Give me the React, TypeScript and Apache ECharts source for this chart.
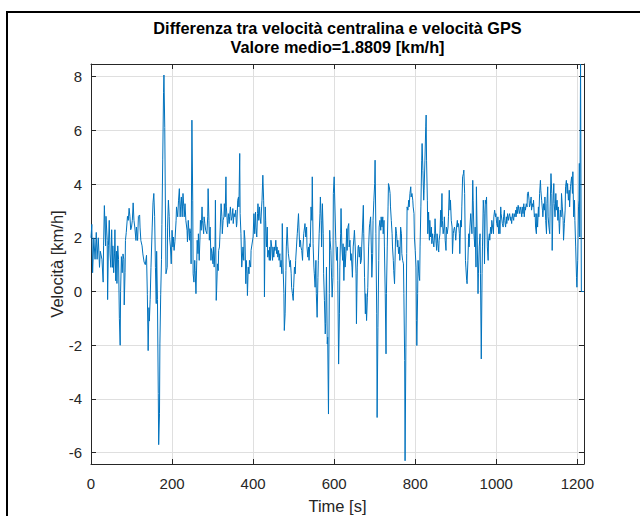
import React, { useEffect, useRef } from "react";
import * as echarts from "echarts";

const TITLE_LINE_1 = "Differenza tra velocità centralina e velocità GPS";
const TITLE_LINE_2 = "Valore medio=1.8809 [km/h]";
const X_NAME = "Time [s]";
const Y_NAME = "Velocità [km/h]";

const TIME_TICKS = [0, 200, 400, 600, 800, 1000, 1200];
const VEL_TICKS = [-6, -4, -2, 0, 2, 4, 6, 8];
const TIME_RANGE = [0, 1216.5];
const VEL_RANGE = [-6.42, 8.47];

// [time s, velocity difference km/h]
const segA = [
  [0, 2.0], [2, 2.5], [4, 0.7], [7, 2.0], [10, 1.2], [13, 2.2], [15, 1.2], [18, 2.0], [21, 0.9], [23, 1.5],
  [27, 1.2], [30, 0.35], [31, 1.7], [33, 3.2], [36, 1.7], [37, 2.8], [40, 1.9], [41, -0.3], [43, 1.7], [45, 2.65],
  [47, 1.4], [49, 0.9], [51, 2.3], [53, 0.9], [54, 1.7], [56, 0.7], [58, 1.4], [59, 2.3], [61, 0.4], [63, 1.5],
  [64, 0.3], [66, 1.7], [68, 1.2], [70, -1.0], [72, -2.0], [73, 0.0], [75, 1.3], [77, 0.7], [79, 1.4], [81, 1.2],
  [82, -0.5], [84, 0.7], [85, 1.9], [87, 2.2], [90, 2.8], [92, 2.65], [94, 3.1], [96, 2.8], [98, 2.3], [100, 2.4],
  [102, 2.65], [104, 3.3], [106, 2.65], [108, 2.4], [111, 1.9], [112, 2.4], [115, 1.9], [117, 2.8], [120, 2.85], [121, 2.4],
  [123, 1.9], [126, 1.7], [128, 1.4], [131, 1.1], [134, 1.0], [137, 1.35], [139, -0.1], [141, -2.2], [143, -0.6], [144, -1.1],
  [146, -0.3], [148, 0.9], [151, 2.4], [153, 3.3], [155, 3.65], [157, 2.8], [159, 0.9], [161, -0.45], [162, 1.5], [164, -0.3],
  [166, -3.8], [167, -5.7], [169, -4.55], [170, -1.95], [172, -0.1], [174, 1.2], [175, 2.5], [177, 4.9], [179, 7.4], [180, 8.06],
  [182, 6.1], [184, 2.4], [185, 0.66], [188, 0.9], [189, 2.4], [191, 3.4], [193, 2.8], [194, 2.0],
];
const segB = [
  [196, 1.66], [198, 1.03], [200, 2.28], [202, 1.66], [203, 2.03], [205, 1.53], [207, 1.85], [210, 2.65], [211, 3.15], [214, 2.78],
  [216, 3.4], [218, 3.83], [220, 2.78], [221, 3.15], [223, 3.52], [225, 2.78], [227, 3.65], [229, 3.15], [230, 2.78], [232, 3.27],
  [234, 2.65], [237, 2.28], [238, 1.85], [240, 2.65], [243, 1.91], [244, 2.34], [246, 2.15], [247, 1.03], [249, 6.38], [251, 3.4],
  [252, 0.66], [254, 0.35], [256, 1.16], [257, 0.78], [259, -0.08], [261, 1.16], [262, 1.91], [264, 1.41], [265, 2.15], [267, 1.16],
  [269, 2.03], [270, 2.65], [272, 2.28], [274, 3.15], [275, 2.65], [278, 2.15], [279, 2.78], [281, 2.53], [283, 2.28], [286, 2.15],
  [288, 2.78], [289, 3.83], [291, 2.65], [292, 1.91], [294, 2.4], [296, 1.16], [297, 1.6], [299, 1.41], [301, 1.03], [302, 1.66],
  [304, 0.91], [306, 1.66], [307, 3.4], [309, -0.33], [310, 0.04], [312, 1.03], [314, 0.78], [315, 1.53], [317, 1.66], [319, 2.4],
  [321, 3.27], [323, 2.78], [324, 2.15], [326, 2.65], [328, 2.78], [329, 3.27], [331, 2.78], [333, 4.27], [334, 3.15], [336, 2.65],
  [337, 2.4], [339, 2.9], [341, 2.53], [342, 2.78], [344, 3.15], [346, 2.65], [348, 2.78], [350, 3.09], [351, 2.53], [353, 2.9],
  [355, 2.78], [357, 3.03], [359, 2.4], [360, 2.53], [362, 3.4], [364, 3.52], [365, 3.15], [367, 5.14], [368, 2.9], [370, 2.15],
  [372, 0.91], [373, 1.16], [375, 1.66], [377, 1.16], [378, 2.28], [380, 1.91], [382, 0.29], [383, 1.16], [385, 0.66], [386, -0.15],
  [388, 0.91], [390, 0.66], [391, 1.16], [394, 0.91], [395, 1.53],
];
const segC = [
  [400, 2.03], [402, 2.9], [404, 2.15], [406, 2.96], [407, 2.4], [409, 2.03], [411, 2.9], [412, 3.27], [414, 2.65], [416, 3.15],
  [417, 2.78], [419, 2.53], [421, 3.15], [422, 3.4], [424, 4.33], [426, 3.4], [427, 2.4], [428, -0.2], [430, 3.15], [431, 2.65],
  [433, 1.66], [435, 2.4], [436, 1.28], [438, 1.53], [440, 1.16], [441, 1.66], [443, 1.16], [444, 1.91], [446, 1.66], [448, 1.16],
  [449, 1.66], [451, 1.28], [453, 1.66], [454, 1.53], [456, 1.91], [458, 1.41], [459, 1.66], [461, 1.28], [463, 1.53], [464, 1.16],
  [466, 1.41], [467, 0.91], [469, 1.16], [471, 0.66], [472, 2.53], [474, 0.91], [476, -0.08], [477, -1.45], [479, -0.83], [481, 0.78],
  [482, 1.66], [484, 2.4], [486, 1.66], [487, 1.41], [489, 1.16], [491, 0.91], [492, 1.16], [494, 0.66], [495, 0.16], [497, -0.08],
  [499, -0.33], [500, 0.16], [502, 0.91], [504, 0.66], [505, 1.16], [507, 1.66], [509, 2.15], [510, 2.4], [512, 2.9], [514, 2.03],
  [515, 1.66], [517, 1.91], [518, 1.66], [520, 1.53], [522, 1.16], [523, 1.66], [525, 2.15], [527, 2.4], [528, 2.53], [530, 2.03],
  [532, 2.4], [533, 1.66], [535, 1.28], [537, 1.66], [538, 1.16], [540, 1.78], [541, 1.66], [543, 3.15], [545, 2.65], [546, 4.27],
  [548, 1.78], [550, 0.91], [551, 0.66], [553, 0.16], [555, 1.16], [556, -0.08], [558, -0.96], [560, 0.53], [561, 1.16], [563, 2.15],
  [565, 2.9], [566, 3.52], [568, 2.65], [569, 1.66], [571, 3.27], [573, 2.15], [574, 0.66], [576, -0.33], [578, -1.58], [579, -1.2],
  [581, 0.91], [583, -1.95], [584, -1.7], [586, -4.56], [588, -0.08], [589, 2.28], [590, 1.91], [592, 1.53], [593, 0.91], [595, -0.21],
  [597, 0.53], [598, 3.65], [600, 4.27],
];
const segD = [
  [604, 1.91], [606, 1.16], [608, 1.66], [609, 0.41], [611, -2.7], [613, -0.83], [614, 0.91], [616, 2.15], [617, 3.09], [619, 1.66],
  [621, 1.16], [622, 1.78], [624, 0.41], [626, 1.66], [627, 0.91], [629, 1.41], [631, 2.34], [632, 1.53], [634, 2.4], [636, 2.53],
  [637, 1.66], [639, 1.91], [641, 1.16], [642, 1.41], [644, 0.91], [645, 0.53], [647, 1.66], [649, 2.03], [650, 2.28], [652, 1.66],
  [654, 0.66], [655, -1.2], [657, 0.91], [659, 1.66], [660, 1.72], [662, 1.28], [664, 1.66], [665, 1.03], [667, 1.16], [668, 1.66],
  [670, 2.4], [672, 3.21], [673, 2.15], [675, 0.53], [677, -0.83], [678, -0.08], [680, -1.08], [682, -0.21], [683, 0.16], [685, 1.66],
  [687, 2.4], [688, 2.53], [690, 2.78], [692, 1.41], [693, 0.53], [695, 1.41], [696, 2.65], [698, 3.4], [700, 4.02], [701, 4.89],
  [703, 2.15], [705, -0.83], [706, -4.69], [708, -1.33], [710, 1.16], [711, 2.4], [713, 2.65], [715, 2.28], [716, 2.78], [718, 2.4],
  [720, 2.78], [721, 2.15], [723, 2.65], [724, 1.66], [726, -0.08], [728, -2.32], [729, -0.08], [731, 1.66], [733, 3.15], [734, 4.02],
  [736, 3.9], [738, 3.65], [739, 3.15], [741, 2.65], [743, 2.15], [744, 1.66], [746, 1.16], [747, 0.78], [749, 0.29], [751, 1.66],
  [752, 2.4], [754, 2.15], [756, 1.66], [757, 1.91], [759, 1.41], [761, 1.66], [762, 1.16], [764, 2.4], [766, 2.15], [767, 1.41],
  [769, 1.16], [771, 1.03], [772, -0.08], [774, -2.57], [775, -6.3], [777, -2.07], [779, 1.41], [780, 3.15], [782, 3.03], [784, 3.4],
  [785, 3.15], [787, 3.65], [789, 3.9], [790, 3.52], [792, 3.65], [794, 3.4], [795, 3.15], [797, 2.9], [798, 2.03], [800, 1.53],
  [802, 0.91],
];
const segE = [
  [803, -1.08], [804, -2.01], [806, -0.08], [807, 1.16], [809, 0.66], [811, 0.41], [812, 1.66], [814, 3.15], [816, 4.89], [817, 5.51],
  [819, 4.51], [821, 3.4], [822, 3.77], [824, 4.89], [826, 6.13], [827, 6.57], [828, 4.89], [830, 3.4], [831, 2.15], [833, 2.96],
  [835, 1.91], [836, 2.65], [838, 2.03], [840, 2.4], [841, 1.78], [843, 2.15], [844, 1.91], [846, 1.66], [848, 2.15], [849, 2.71],
  [851, 1.91], [853, 1.53], [854, 2.15], [856, 1.78], [858, 1.47], [859, 1.91], [861, 2.15], [863, 3.03], [864, 2.4], [866, 3.65],
  [867, 2.65], [869, 2.15], [871, 2.4], [872, 2.78], [874, 1.91], [876, 1.53], [877, 2.4], [879, 2.15], [881, 2.4], [882, 2.78],
  [884, 3.77], [886, 3.03], [887, 3.4], [889, 2.65], [891, 2.4], [892, 1.41], [894, 2.15], [895, 2.28], [897, 2.4], [899, 2.15],
  [900, 1.91], [902, 2.4], [904, 2.65], [905, 2.4], [907, 2.53], [909, 2.15], [910, 1.41], [912, 2.65], [914, 2.4], [915, 3.15],
  [917, 4.27], [919, 4.39], [920, 4.52], [922, 3.65], [924, 1.16], [925, 0.91], [927, 0.41], [928, 0.29], [930, 1.16], [932, 2.15],
  [933, 1.66], [935, 2.4], [937, 2.9], [938, 2.9], [940, 2.15], [942, 4.14], [943, 3.4], [945, 2.15], [947, 1.66], [948, 2.4],
  [950, 0.91], [951, 3.9], [953, 2.03], [955, -0.08], [956, 0.66], [958, 1.66], [960, 2.15], [961, 0.66], [963, -2.51], [965, 0.66],
  [966, 1.66], [968, 3.4], [970, 2.9], [971, 1.03], [973, 3.4], [975, 3.27], [976, 3.52], [978, 1.66], [980, 1.16], [981, 1.91],
  [983, 2.15], [984, 1.91], [986, 2.4], [988, 2.15], [989, 2.65], [991, 2.4], [993, 2.15], [994, 2.78], [996, 3.03], [998, 2.78],
  [999, 2.9], [1001, 2.53], [1003, 2.4], [1004, 2.78], [1006, 2.15], [1008, 2.65], [1009, 2.15], [1011, 3.15], [1012, 2.9],
];
const segF = [
  [1015, 2.53], [1017, 2.4], [1018, 2.78], [1020, 3.03], [1021, 2.65], [1023, 2.4], [1025, 2.78], [1026, 2.53], [1028, 2.9], [1030, 2.65],
  [1031, 2.78], [1033, 2.9], [1035, 2.65], [1036, 2.78], [1038, 2.53], [1040, 2.9], [1041, 2.78], [1043, 2.65], [1044, 2.9], [1046, 2.78],
  [1048, 3.03], [1049, 2.78], [1051, 3.15], [1053, 2.9], [1054, 3.21], [1056, 3.03], [1058, 2.9], [1059, 3.15], [1061, 3.03], [1063, 2.78],
  [1064, 3.15], [1066, 2.9], [1068, 3.27], [1069, 2.78], [1071, 3.15], [1072, 3.03], [1074, 3.27], [1076, 3.15], [1077, 3.65], [1079, 3.71],
  [1081, 3.4], [1082, 3.15], [1084, 3.27], [1086, 3.52], [1087, 3.03], [1089, 3.27], [1091, 3.15], [1092, 3.4], [1094, 2.78], [1096, 2.9],
  [1097, 2.4], [1099, 2.15], [1100, 2.9], [1102, 2.4], [1104, 3.15], [1105, 2.78], [1107, 3.65], [1109, 4.14], [1110, 3.77], [1112, 3.4],
  [1114, 3.03], [1115, 2.78], [1117, 3.27], [1119, 3.03], [1120, 3.52], [1122, 2.65], [1124, 2.15], [1125, 3.27], [1127, 3.9], [1128, 2.78],
  [1130, 2.4], [1132, 2.15], [1133, 3.15], [1135, 4.39], [1137, 3.65], [1138, 1.53], [1140, 3.27], [1142, 4.02], [1143, 3.27], [1145, 2.78],
  [1147, 3.65], [1148, 3.03], [1150, 3.4], [1152, 2.65], [1153, 3.15], [1155, 2.53], [1156, 2.15], [1158, 3.03], [1160, 2.78], [1161, 3.65],
  [1163, 3.15], [1165, 2.65], [1166, 1.91], [1168, 2.53], [1170, 3.03], [1171, 3.9], [1173, 4.14], [1175, 3.65], [1176, 4.02], [1178, 3.4],
  [1180, 3.77], [1181, 3.15], [1183, 3.9], [1184, 4.02], [1186, 4.27], [1188, 3.65], [1189, 4.46], [1191, 2.78], [1193, 3.4], [1194, 2.65],
  [1196, 1.66], [1198, 0.53], [1199, 0.16], [1201, 1.16], [1203, 3.15], [1204, 3.4], [1205, 4.77], [1206, 2.03], [1208, 8.47], [1210, 0],
  [1216.5, 0],
];

const FONT = "'Liberation Sans', Arial, Helvetica, sans-serif";
const AXIS_COLOR = "#262626";
const GRID_COLOR = "#dfdfdf";
const LINE_COLOR = "#0072BD";

export default function App() {
  const ref = useRef<HTMLDivElement>(null);

  useEffect(() => {
    document.body.style.margin = "0";
    document.body.style.background = "#ffffff";
    if (!ref.current) return;
    const chart = echarts.init(ref.current, null, { renderer: "svg" });
    const data = [...segA, ...segB, ...segC, ...segD, ...segE, ...segF];

    const gridLeft = 91;
    const gridRight = 56;
    const gridTop = 64;
    const gridBottom = 52;
    const plotCenterX = gridLeft + (640 - gridLeft - gridRight) / 2;
    const plotCenterY = gridTop + (516 - gridTop - gridBottom) / 2;

    const baseAxisLine = { show: true, onZero: false, lineStyle: { color: AXIS_COLOR, width: 1 } };
    const plain = (v: number) => String(v);

    chart.setOption({
      animation: false,
      backgroundColor: "#ffffff",
      title: {
        text: TITLE_LINE_1 + "\n" + TITLE_LINE_2,
        left: plotCenterX,
        top: 18,
        padding: 0,
        textAlign: "center",
        textStyle: {
          fontFamily: FONT,
          fontSize: 16.3,
          fontWeight: "bold",
          color: "#000000",
          lineHeight: 19.5,
        },
      },
      grid: { left: gridLeft, right: gridRight, top: gridTop, bottom: gridBottom, containLabel: false },
      xAxis: [
        {
          type: "value",
          position: "bottom",
          min: TIME_RANGE[0],
          max: TIME_RANGE[1],
          axisLine: baseAxisLine,
          axisTick: { show: true, inside: true, length: 5, customValues: TIME_TICKS, lineStyle: { color: AXIS_COLOR } },
          axisLabel: { show: true, customValues: TIME_TICKS, formatter: plain, margin: 12, color: AXIS_COLOR, fontSize: 15, fontFamily: FONT },
          splitLine: { show: true, lineStyle: { color: GRID_COLOR, width: 1 } },
        },
        {
          type: "value",
          position: "top",
          min: TIME_RANGE[0],
          max: TIME_RANGE[1],
          axisLine: baseAxisLine,
          axisTick: { show: true, inside: true, length: 5, customValues: TIME_TICKS, lineStyle: { color: AXIS_COLOR } },
          axisLabel: { show: false },
          splitLine: { show: false },
        },
      ],
      yAxis: [
        {
          type: "value",
          position: "left",
          min: VEL_RANGE[0],
          max: VEL_RANGE[1],
          axisLine: baseAxisLine,
          axisTick: { show: true, inside: true, length: 5, customValues: VEL_TICKS, lineStyle: { color: AXIS_COLOR } },
          axisLabel: { show: true, customValues: VEL_TICKS, formatter: plain, margin: 9, color: AXIS_COLOR, fontSize: 15, fontFamily: FONT },
          splitLine: { show: true, lineStyle: { color: GRID_COLOR, width: 1 } },
        },
        {
          type: "value",
          position: "right",
          min: VEL_RANGE[0],
          max: VEL_RANGE[1],
          axisLine: baseAxisLine,
          axisTick: { show: true, inside: true, length: 5, customValues: VEL_TICKS, lineStyle: { color: AXIS_COLOR } },
          axisLabel: { show: false },
          splitLine: { show: false },
        },
      ],
      series: [
        {
          type: "line",
          data,
          xAxisIndex: 0,
          yAxisIndex: 0,
          showSymbol: false,
          symbol: "none",
          clip: true,
          lineStyle: { color: LINE_COLOR, width: 1 },
          z: 3,
        },
      ],
      graphic: [
        {
          type: "rect",
          shape: { x: 7, y: 12, width: 800, height: 700 },
          style: { fill: "none", stroke: "#000000", lineWidth: 2 },
          silent: true,
        },
        {
          type: "text",
          x: plotCenterX,
          y: 506,
          style: {
            text: X_NAME,
            fontFamily: FONT,
            fontSize: 16.5,
            fill: AXIS_COLOR,
            textAlign: "center",
            textVerticalAlign: "middle",
          },
        },
        {
          type: "text",
          x: 57,
          y: plotCenterY,
          rotation: Math.PI / 2,
          style: {
            text: Y_NAME,
            fontFamily: FONT,
            fontSize: 16.5,
            fill: AXIS_COLOR,
            textAlign: "center",
            textVerticalAlign: "middle",
          },
        },
      ],
    });

    return () => chart.dispose();
  }, []);

  return <div ref={ref} style={{ width: 640, height: 516 }} />;
}
